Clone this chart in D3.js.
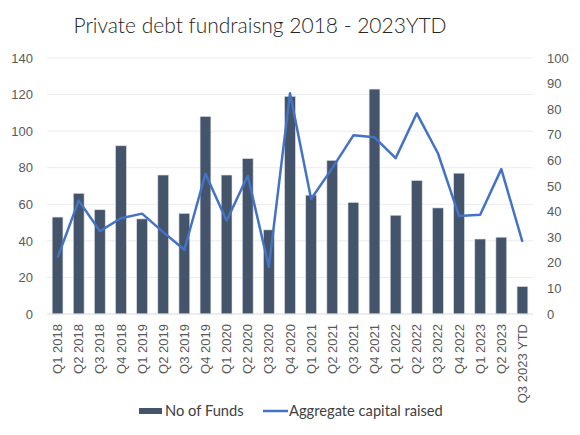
<!DOCTYPE html>
<html><head><meta charset="utf-8">
<script src="https://cdn.jsdelivr.net/npm/d3@7"></script>
<style>body{margin:0;background:#fff}</style>
</head><body><svg id="c" width="580" height="435"></svg>
<script>
const categories = ["Q1 2018","Q2 2018","Q3 2018","Q4 2018","Q1 2019","Q2 2019","Q3 2019","Q4 2019","Q1 2020","Q2 2020","Q3 2020","Q4 2020","Q1 2021","Q2 2021","Q3 2021","Q4 2021","Q1 2022","Q2 2022","Q3 2022","Q4 2022","Q1 2023","Q2 2023","Q3 2023 YTD"];
const noOfFunds = [53,66,57,92,52,76,55,108,76,85,46,119,65,84,61,123,54,73,58,77,41,42,15];
const aggregateCapital = [22,44.3,32.4,37.4,39.2,32,25.1,54.8,36.4,54,18.4,86.2,44.9,57,69.8,69,60.9,78.4,62.8,38.3,38.8,56.6,28.2];
const leftTicks = [0,20,40,60,80,100,120,140];
const rightTicks = [0,10,20,30,40,50,60,70,80,90,100];

const svg = d3.select("#c");
const L = 47, R = 533, T = 58, B = 314;
const x = d3.scaleBand().domain(categories).range([L, R]).paddingInner(0.49).paddingOuter(0.245);
const yL = d3.scaleLinear().domain([0,140]).range([B, T]);
const yR = d3.scaleLinear().domain([0,100]).range([B, T]);

svg.append("text").attr("x", 260).attr("y", 33).attr("text-anchor","middle")
  .attr("font-family","Lato").attr("font-weight",300).attr("font-size", 21).attr("fill","#262626").text("Private debt fundraisng 2018 - 2023YTD");

// gridlines
svg.append("g").selectAll("line").data(leftTicks.slice(1)).join("line")
  .attr("x1", L).attr("x2", R).attr("y1", d=>yL(d)).attr("y2", d=>yL(d))
  .attr("stroke","#ebebeb").attr("stroke-width",1);

// bars
svg.append("g").selectAll("rect").data(noOfFunds).join("rect")
  .attr("x",(d,i)=>x(categories[i])).attr("width", x.bandwidth())
  .attr("y", d=>yL(d)).attr("height", d=>B - yL(d))
  .attr("fill","#44546A").attr("stroke","#d8dce2").attr("stroke-width",0.6);

// baseline
svg.append("line").attr("x1",L).attr("x2",R).attr("y1",B).attr("y2",B).attr("stroke","#d9d9d9");

// line
const line = d3.line().x((d,i)=>x(categories[i]) + x.bandwidth()/2).y(d=>yR(d));
svg.append("path").datum(aggregateCapital).attr("d", line).attr("fill","none")
  .attr("stroke","#4472C4").attr("stroke-width",2.5).attr("stroke-linejoin","round");

const tickFont = "'Liberation Sans', Arial, sans-serif";
// left axis
const axL = svg.append("g").attr("transform",`translate(${L},0)`)
  .call(d3.axisLeft(yL).tickValues(leftTicks).tickSize(0).tickPadding(14));
axL.attr("font-family", tickFont).attr("font-size",13);
axL.select(".domain").remove();
axL.selectAll("text").attr("fill","#595959");

// right axis
const axR = svg.append("g").attr("transform",`translate(${R},0)`)
  .call(d3.axisRight(yR).tickValues(rightTicks).tickSize(0).tickPadding(14));
axR.attr("font-family", tickFont).attr("font-size",13);
axR.select(".domain").remove();
axR.selectAll("text").attr("fill","#595959");

// x axis
const axX = svg.append("g").attr("transform",`translate(0,${B})`)
  .call(d3.axisBottom(x).tickSize(0).tickPadding(0));
axX.attr("font-family", tickFont).attr("font-size",13);
axX.select(".domain").remove();
axX.selectAll("text").attr("fill","#595959")
  .attr("text-anchor","end").attr("y",0).attr("x",0).attr("dy","0.35em")
  .attr("transform","translate(0,10) rotate(-90)");

// legend
const lg = svg.append("g").attr("font-family","Lato").attr("font-size",14.7).attr("fill","#404040");
lg.append("rect").attr("x",139).attr("y",408).attr("width",23).attr("height",6).attr("fill","#44546A");
lg.append("text").attr("x",165).attr("y",416).text("No of Funds");
lg.append("line").attr("x1",263).attr("x2",288).attr("y1",411).attr("y2",411).attr("stroke","#4472C4").attr("stroke-width",2.5);
lg.append("text").attr("x",289).attr("y",416).text("Aggregate capital raised");
</script></body></html>
